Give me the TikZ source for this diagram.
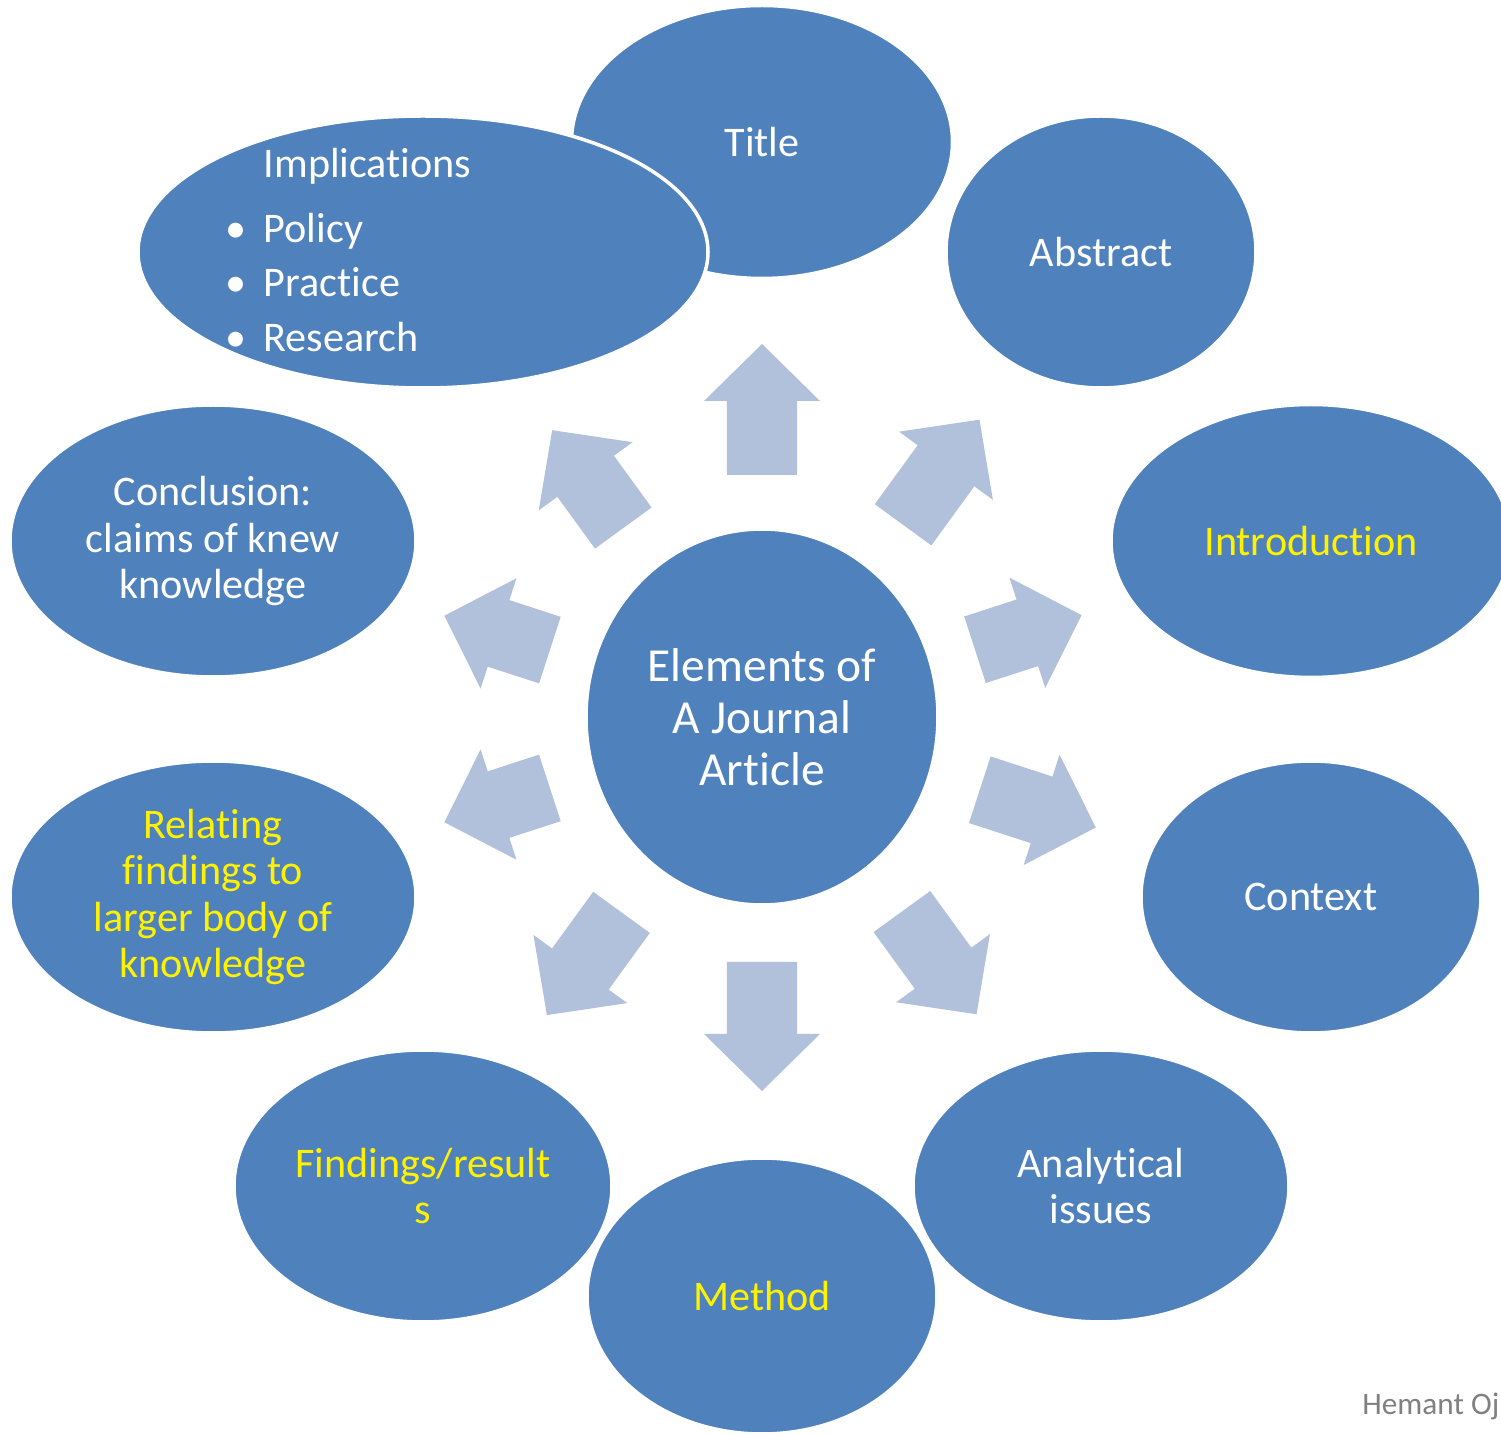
\documentclass[tikz,border=0pt]{standalone}
\usepackage{fontspec}
\setmainfont{Carlito}[RawFeature={-liga;-clig;-calt;-dlig}]
\usetikzlibrary{shapes.geometric}

\definecolor{ellblue}{RGB}{79,129,189}
\definecolor{spokeblue}{RGB}{178,193,219}
\definecolor{signgray}{RGB}{128,128,128}

\tikzset{
  leaf/.style={ellipse, fill=ellblue, draw=white, line width=1pt, inner sep=0pt,
    text=white, align=center, font=\fontsize{12}{13.1}\selectfont},
  hilite/.style={text=yellow},
  core/.style={leaf, font=\fontsize{13.5}{14.8}\selectfont},
  listline/.style={anchor=base west, inner sep=0pt, text=white,
    font=\fontsize{12}{13}\selectfont},
}

% block arrow pointing away from the centre: angle, start radius, shaft length
\newcommand\spoke[3]{%
  \fill[spokeblue, rotate=#1]
    (#2,-0.35) -- ({#2+#3},-0.35) -- ({#2+#3},-0.58) -- ({#2+#3+0.57},0)
    -- ({#2+#3},0.58) -- ({#2+#3},0.35) -- (#2,0.35) -- cycle;}

\begin{document}
\begin{tikzpicture}
      \useasboundingbox (-7.62,-7.16) rectangle (7.39,7.19);
      \clip (-7.62,-7.16) rectangle (7.39,7.19);

      % arrows
      \spoke{90}{2.44}{0.74}
      \spoke{54}{2.40}{0.73}
      \spoke{18}{2.24}{0.55}
      \spoke{-18}{2.29}{0.65}
      \spoke{-54}{2.38}{0.70}
      \spoke{-90}{2.43}{0.72}
      \spoke{-126}{2.39}{0.70}
      \spoke{-162}{2.23}{0.54}
      \spoke{162}{2.23}{0.54}
      \spoke{126}{2.36}{0.64}

      \path
        (0,0.02) node[core, minimum width=3.52cm, minimum height=3.76cm] (core)
          {Elements of\\A Journal\\Article}
        (0,5.77) node[leaf, minimum width=3.81cm, minimum height=2.73cm] (title) {Title}
        (3.39,4.67) node[leaf, minimum width=3.10cm, minimum height=2.72cm] (abstract) {Abstract}
        (5.49,1.78) node[leaf, hilite, minimum width=4.00cm, minimum height=2.73cm] (intro) {Introduction}
        (5.49,-1.78) node[leaf, minimum width=3.40cm, minimum height=2.72cm] (context) {Context}
        (3.39,-4.67) node[leaf, minimum width=3.76cm, minimum height=2.72cm] (analysis)
          {Analytical\\issues}
        (0,-5.77) node[leaf, hilite, minimum width=3.50cm, minimum height=2.76cm] (method) {Method}
        (-3.39,-4.67) node[leaf, hilite, minimum width=3.78cm, minimum height=2.72cm] (findings)
          {Findings/result\\s}
        (-5.49,-1.78) node[leaf, hilite, minimum width=4.06cm, minimum height=2.72cm] (relating)
          {Relating\\findings to\\larger body of\\knowledge}
        (-5.49,1.78) node[leaf, minimum width=4.06cm, minimum height=2.72cm] (conclusion)
          {Conclusion:\\claims of knew\\knowledge}
        (-3.39,4.67) node[leaf, minimum width=5.70cm, minimum height=2.72cm] (implications) {};

      % list inside the implications ellipse
      \node[listline] (impl) at (-4.99,5.41) {Implications};
      \node[listline] (policy) at (-4.99,4.76) {\llap{\textbullet\hspace{0.175cm}}Policy};
      \node[listline] (practice) at (-4.99,4.22) {\llap{\textbullet\hspace{0.175cm}}Practice};
      \node[listline] (research) at (-4.99,3.67) {\llap{\textbullet\hspace{0.175cm}}Research};

      \node[anchor=base east, inner sep=0pt, text=signgray,
        font=\fontsize{8.9}{10}\selectfont] (sign) at (7.38,-6.95) {Hemant Oj};
    \end{tikzpicture}
\end{document}
